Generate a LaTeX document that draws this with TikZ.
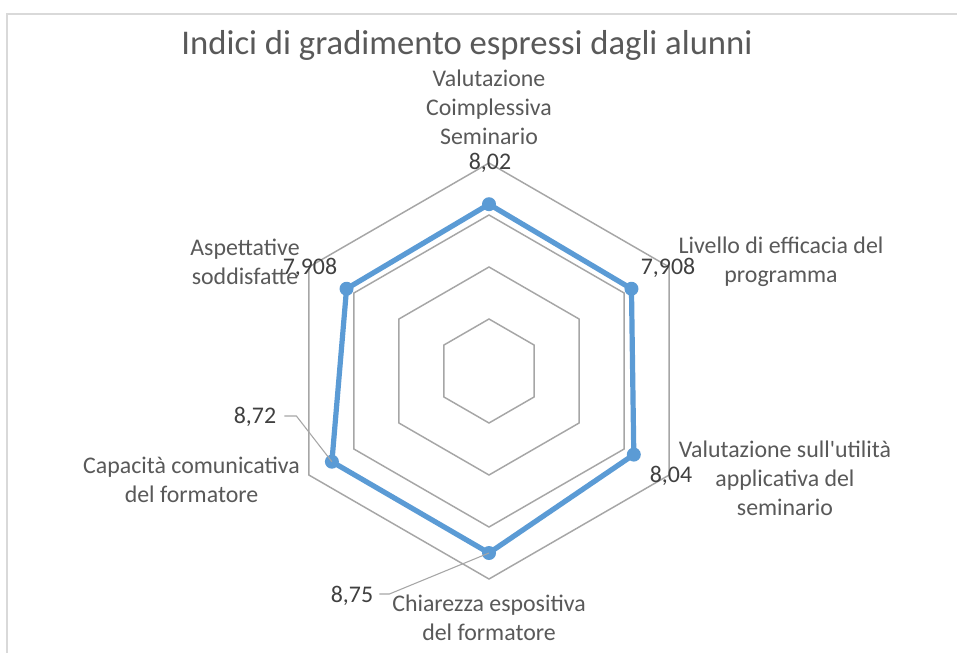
\documentclass[tikz,border=0pt]{standalone}
\usepackage{fontspec}
\setmainfont{Carlito}
\definecolor{gridc}{HTML}{A6A6A6}
\definecolor{framec}{HTML}{D9D9D9}
\definecolor{seriesc}{HTML}{5B9BD5}
\definecolor{labelc}{HTML}{595959}
\definecolor{valuec}{HTML}{404040}
\tikzset{
  gridline/.style={draw=gridc, line width=1.1pt},
  series/.style={draw=seriesc, line width=3.9pt, line join=round},
  marker/.style={circle, fill=seriesc, inner sep=0pt, minimum size=10.5pt},
  catlabel/.style={text=labelc, align=center, inner sep=0pt, font=\fontsize{17.9}{21.75}\selectfont},
  vallabel/.style={text=valuec, inner sep=0pt, font=\fontsize{17.9}{21}\selectfont},
  leader/.style={draw=gridc, line width=0.8pt},
}
\begin{document}
\begin{tikzpicture}[x=0.75pt,y=-0.75pt]
\useasboundingbox (0,0) rectangle (957,653);
\fill[white] (0,0) rectangle (957,653);
\draw[framec, line width=1.5pt] (7,653) -- (7,13.5) -- (957,13.5);
\node[text=labelc, inner sep=0pt, font=\fontsize{26}{30}\selectfont] (title) at (467,45) {Indici di gradimento espressi dagli alunni};
\begin{scope}[shift={(489,371)}]
\begin{scope}[yscale=-1]
\foreach \r in {52,104,156,208}{
  \draw[gridline] (90:\r) -- (30:\r) -- (-30:\r) -- (-90:\r) -- (-150:\r) -- (150:\r) -- cycle;
}
\coordinate (p1) at (90:166.8);
\coordinate (p2) at (30:164.5);
\coordinate (p3) at (-30:167.2);
\coordinate (p4) at (-90:182);
\coordinate (p5) at (-150:181.4);
\coordinate (p6) at (150:164.5);
\end{scope}
\end{scope}
\draw[series] (p1) -- (p2) -- (p3) -- (p4) -- (p5) -- (p6) -- cycle;
\foreach \i in {1,...,6}{ \node[marker] (m\i) at (p\i) {}; }
% category labels
\node[catlabel] (c1) at (489,107) {Valutazione\\Coimplessiva\\Seminario};
\node[catlabel] (c2) at (781,262) {Livello di efficacia del\\programma};
\node[catlabel] (c3) at (785,478) {Valutazione sull\textquotesingle utilità\\applicativa del\\seminario};
\node[catlabel] (c4) at (489,618) {Chiarezza espositiva\\del formatore};
\node[catlabel] (c5) at (191.5,479.5) {Capacità comunicativa\\del formatore};
\node[catlabel] (c6) at (245,261.5) {Aspettative\\soddisfatte};
% value labels
\node[vallabel] (v1) at (490,163) {8,02};
\node[vallabel] (v2) at (668,268) {7,908};
\node[vallabel] (v3) at (671,476) {8,04};
\node[vallabel] (v4) at (352,596) {8,75};
\node[vallabel] (v5) at (255,417) {8,72};
\node[vallabel] (v6) at (310,268) {7,908};
% leader lines
\draw[leader] (v5.east) ++(8,-1) -- ++(12,0) -- (m5.center);
\draw[leader] (v4.east) ++(6,-2) -- ++(10,0) -- (m4.center);
\end{tikzpicture}
\end{document}
